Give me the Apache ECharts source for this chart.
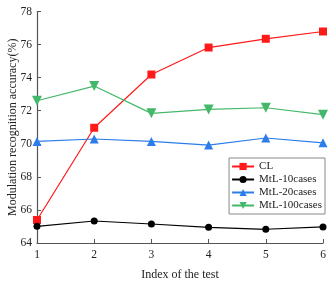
<!DOCTYPE html>
<html><head><meta charset="utf-8">
<script src="https://cdn.jsdelivr.net/npm/echarts@6/dist/echarts.min.js"></script>
<style>html,body{margin:0;padding:0;background:#fff}#c{width:332px;height:284px}</style>
</head><body><div id="c"></div>
<script>
const categories = ['1','2','3','4','5','6'];
const seriesNames = ['CL','MtL-10cases','MtL-20cases','MtL-100cases'];
const clVals = [65.39, 70.97, 74.19, 75.82, 76.35, 76.79];
const mtl10Vals = [65.01, 65.33, 65.15, 64.95, 64.83, 64.97];
const mtl20Vals = [70.14, 70.29, 70.14, 69.92, 70.35, 70.06];
const mtl100Vals = [72.6, 73.49, 71.84, 72.08, 72.18, 71.76];
const yTicks = [64, 66, 68, 70, 72, 74, 76, 78];

const font = 'Liberation Serif, Times New Roman, serif';
const chart = echarts.init(document.getElementById('c'));
const mk = (name, data, color, symbol, size, rotate) => ({
  name, type: 'line', data, symbol, symbolSize: size, symbolRotate: rotate || 0,
  lineStyle: {color, width: 1.2}, itemStyle: {color}, color
});
chart.setOption({
  animation: false,
  textStyle: {fontFamily: font},
  grid: {left: 37, right: 9, top: 11.5, bottom: 41, containLabel: false, outerBoundsMode: 'none'},
  xAxis: {
    type: 'category', data: categories, boundaryGap: false,
    name: 'Index of the test', nameLocation: 'middle', nameGap: 26, nameMoveOverlap: false,
    nameTextStyle: {fontFamily: font, fontSize: 12, color: '#222'},
    axisLine: {lineStyle: {color: '#555', width: 1.2}},
    axisTick: {inside: true, length: 4, lineStyle: {color: '#555'}},
    axisLabel: {fontFamily: font, fontSize: 11.5, color: '#222', margin: 6},
    splitLine: {show: false}
  },
  yAxis: {
    type: 'value', min: yTicks[0], max: yTicks[yTicks.length-1], interval: 2,
    name: 'Modulation recognition accuracy(%)', nameLocation: 'middle', nameGap: 18, nameMoveOverlap: false,
    nameTextStyle: {fontFamily: font, fontSize: 12, color: '#222'},
    axisLine: {show: true, lineStyle: {color: '#555', width: 1.2}},
    axisTick: {show: true, inside: true, length: 4, lineStyle: {color: '#555'}},
    axisLabel: {fontFamily: font, fontSize: 11.5, color: '#222', margin: 5},
    splitLine: {show: false}
  },
  legend: {
    data: seriesNames, orient: 'vertical', right: 7, top: 158,
    backgroundColor: '#fff', borderColor: '#888', borderWidth: 1,
    padding: [3, 3, 3, 2], itemGap: 2, itemWidth: 22, itemHeight: 9,
    textStyle: {fontFamily: font, fontSize: 11, color: '#222'}
  },
  series: [
    mk(seriesNames[0], clVals, '#ff1a1a', 'rect', 8),
    mk(seriesNames[1], mtl10Vals, '#000000', 'circle', 7),
    mk(seriesNames[2], mtl20Vals, '#2b7de9', 'triangle', 9),
    mk(seriesNames[3], mtl100Vals, '#44b86a', 'triangle', 10, 180)
  ]
});
</script></body></html>
